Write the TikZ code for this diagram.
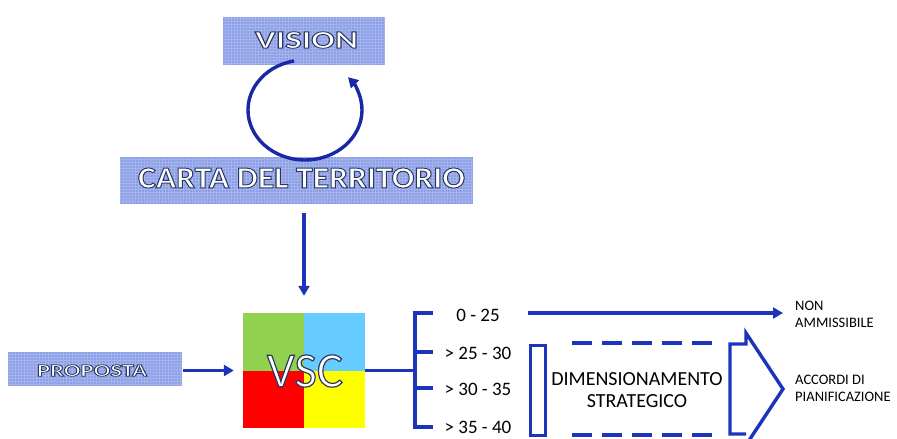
\documentclass[tikz,border=0pt]{standalone}
\usepackage{fontspec}
\setmainfont{Carlito}
\usepackage{graphicx}
\usetikzlibrary{arrows.meta}
\definecolor{ln}{RGB}{28,52,188}
\definecolor{navy}{RGB}{26,40,165}
\definecolor{bx}{RGB}{140,158,232}
\definecolor{qgreen}{RGB}{146,208,80}
\definecolor{qblue}{RGB}{102,204,255}
\definecolor{qred}{RGB}{255,0,0}
\definecolor{qyellow}{RGB}{255,255,0}
% outlined text (fill white, stroke dark): #1 stroke width, #2 text
\newcommand\outl[2]{{\color{white}\special{pdf:literal direct 2 Tr #1 w 0.17 0.22 0.38 RG}#2\special{pdf:literal direct 0 Tr}}}
\tikzset{
  tbox/.style={fill=bx, draw=none, inner sep=0},
  texture/.style={white, opacity=0.22, line width=0.4pt, xstep=3pt, ystep=3pt},
  arr/.style={ln, line width=3.6pt, -{Triangle[length=10pt,width=11pt]}},
  bline/.style={ln, line width=3.6pt},
  lab/.style={font=\fontsize{19}{22}\selectfont, inner sep=0},
  small/.style={font=\fontsize{14.5}{17}\selectfont, inner sep=0, align=left},
  olt/.style={inner sep=0},
}
\begin{document}
\begin{tikzpicture}[x=1pt,y=-1pt]
\useasboundingbox (0,0) rectangle (897,439);
\clip (0,0) rectangle (897,439);
\fill[white] (0,0) rectangle (897,439);

% text boxes
\node[tbox, minimum width=162pt, minimum height=48pt] (visionbox) at (304,41) {};
\draw[texture] (visionbox.south west) grid (visionbox.north east);
\node[tbox, minimum width=353pt, minimum height=47pt] (cartabox) at (296.5,180.5) {};
\draw[texture] (cartabox.south west) grid (cartabox.north east);
\node[tbox, minimum width=174pt, minimum height=34pt] (propbox) at (95,369) {};
\draw[texture] (propbox.south west) grid (propbox.north east);

\node[olt] (vision) at (306.5,40) {\resizebox{103pt}{16.5pt}{\fontsize{26}{30}\selectfont\bfseries\outl{0.9}{VISION}}};
\node[olt] (carta) at (301.5,178) {\resizebox{327pt}{20pt}{\fontsize{31}{36}\selectfont\bfseries\outl{0.95}{CARTA DEL TERRITORIO}}};
\node[olt] (proposta) at (92,370.5) {\resizebox{110pt}{11.5pt}{\fontsize{18}{22}\selectfont\bfseries\outl{0.8}{PROPOSTA}}};

% cycle arrow
\draw[navy, line width=3.4pt, -{Triangle[length=10pt,width=11pt]}]
  (305,110) ++(259:57 and 50) arc[start angle=259, end angle=-41, x radius=57, y radius=50];

% VSC square
\node[inner sep=0, minimum width=122pt, minimum height=115pt] (vsc) at (304,370.5) {};
\fill[qgreen] (vsc.north west) rectangle (vsc.center);
\fill[qblue] (vsc.north east) rectangle (vsc.center);
\fill[qred] (vsc.south west) rectangle (vsc.center);
\fill[qyellow] (vsc.south east) rectangle (vsc.center);
\node[olt] (vsctext) at (305,371) {\resizebox{76pt}{32pt}{\fontsize{50}{56}\selectfont\outl{1.2}{VSC}}};

% arrows into VSC
\draw[arr] ([yshift=-9pt]cartabox.south -| vsc.north) -- ([yshift=17pt]vsc.north);
\draw[arr] ([xshift=1pt]propbox.east |- vsc.west) -- ([xshift=-9pt]vsc.west);

% bracket
\coordinate (b1) at (415,313);
\coordinate (b2) at (415,352);
\coordinate (b3) at (415,388);
\coordinate (b4) at (415,427);
\draw[bline] (vsc.east) -- (vsc.east -| b1);
\draw[bline, line join=miter] ([xshift=18pt]b1) -- (b1) -- (b4) -- ([xshift=18pt]b4);
\draw[bline] (b2) -- ([xshift=18pt]b2);
\draw[bline] (b3) -- ([xshift=18pt]b3);

\node[lab, anchor=base] (r1) at (478,321) {0 - 25};
\node[lab, anchor=base] (r2) at (478,359) {> 25 - 30};
\node[lab, anchor=base] (r3) at (478,395) {> 30 - 35};
\node[lab, anchor=base] (r4) at (478,433) {> 35 - 40};

% outcomes
\node[small, anchor=west] (non) at (795,314) {NON\\AMMISSIBILE};
\node[small, anchor=west] (accordi) at (795,388) {ACCORDI DI\\PIANIFICAZIONE};
\draw[arr] ([xshift=28pt]r1.east |- b1) -- ([xshift=-12pt]non.west |- b1);

% dimensionamento
\draw[ln, line width=3pt] (530,345) rectangle (545,435);
\draw[bline, dash pattern=on 20pt off 10pt] (572,343) -- (712,343);
\draw[bline, dash pattern=on 20pt off 10pt] (572,435) -- (712,435);
\node[font=\fontsize{20}{22}\selectfont, align=center, inner sep=0] (dim) at (637,390) {DIMENSIONAMENTO\\STRATEGICO};
\draw[ln, line width=3.4pt, line join=miter]
  (746,434) -- (730,434) -- (730,344) -- (746,344) -- (746,333) -- (783,389) -- (746,445);
\end{tikzpicture}
\end{document}
